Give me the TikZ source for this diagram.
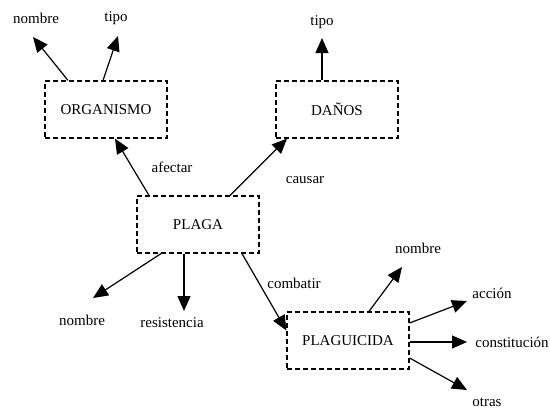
\documentclass[tikz,border=0pt]{standalone}
\usepackage{fontspec}
\setmainfont{Liberation Serif}
\usetikzlibrary{arrows.meta,calc}
\begin{document}
\begin{tikzpicture}[x=1pt,y=-1pt,
  every node/.style={font=\fontsize{15}{18}\selectfont},
  concept/.style={draw,dash pattern=on 5pt off 3pt,line width=1.2pt,
    minimum width=122pt,minimum height=57pt,inner sep=0pt},
  lbl/.style={inner sep=0pt,anchor=center},
  arr/.style={line width=1.2pt,-{Triangle[length=15pt,width=13pt]}}]
\useasboundingbox (0,0) rectangle (550,408);

% concept boxes
\node[concept] (org) at (106,109.5) {ORGANISMO};
\node[concept] (dan) at (337,109.5) {DAÑOS};
\node[concept] (plaga) at (198,224.5) {PLAGA};
\node[concept] (plagu) at (348,340.5) {PLAGUICIDA};

% attribute labels
\node[lbl] (orgnom) at (36,18) {nombre};
\node[lbl] (orgtipo) at (116,18) {tipo};
\node[lbl] (dantipo) at (322,22) {tipo};
\node[lbl] (plnom) at (82,320) {nombre};
\node[lbl] (plres) at (172,323) {resistencia};
\node[lbl] (pgnom) at (418,248) {nombre};
\node[lbl] (pgacc) at (492,293) {acción};
\node[lbl] (pgcon) at (512,342) {constitución};
\node[lbl] (pgotr) at (487,402) {otras};

% link labels
\node[lbl] (afectar) at (172,167) {afectar};
\node[lbl] (causar) at (305,180) {causar};
\node[lbl] (combatir) at (294,283) {combatir};

% arrow tips near the attribute labels
\coordinate (t1) at (33,37);
\coordinate (t2) at (118,36);
\coordinate (t3) at (322,38);
\coordinate (t4) at (93,298);
\coordinate (t5) at (184,311);
\coordinate (t6) at (402,267);
\coordinate (t7) at (467,301);
\coordinate (t8) at (467,342);
\coordinate (t9) at (467,390);

% attribute arrows
\draw[arr] ($(org.north)+(-38,0)$) -- (t1);
\draw[arr] ($(org.north)+(-3,0)$) -- (t2);
\draw[arr] ($(dan.north)+(-15,0)$) -- (t3);
\draw[arr] ($(plaga.south)+(-37,0)$) -- (t4);
\draw[arr] ($(plaga.south)+(-14,0)$) -- (t5);
\draw[arr] ($(plagu.north)+(21,0)$) -- (t6);
\draw[arr] ($(plagu.east)+(0,-17.5)$) -- (t7);
\draw[arr] ($(plagu.east)+(0,1.5)$) -- (t8);
\draw[arr] ($(plagu.east)+(0,17.5)$) -- (t9);

% relations between concepts
\draw[arr] ($(plaga.north)+(-49,0)$) -- ($(org.south)+(9,0)$);
\draw[arr] ($(plaga.north)+(32,0)$) -- ($(dan.south)+(-50,0)$);
\draw[arr] ($(plaga.south)+(44,0)$) -- ($(plagu.west)+(0,-10)$);
\end{tikzpicture}
\end{document}
